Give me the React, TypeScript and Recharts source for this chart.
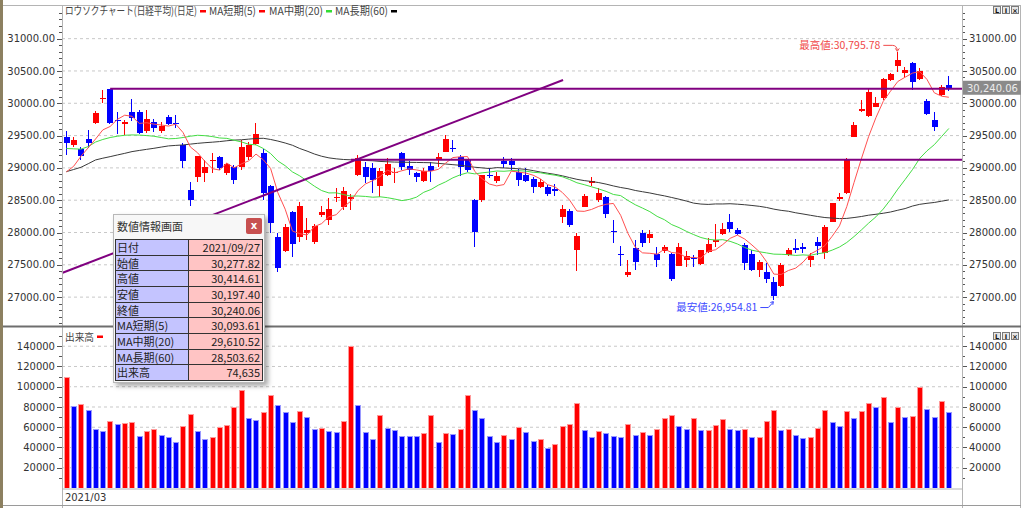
import React from 'react';
import { ComposedChart, Bar, Line, XAxis, YAxis, CartesianGrid, ReferenceLine } from 'recharts';

// ---------------- data ----------------
const dateLabels = ['2021/03'];
const dateTickIndex = [1];

const opens = [
  29484, 29355, 29288, 29443, 29690, 30077, 30220, 29742, 29680, 29861,
  29871, 29570, 29716, 29572, 29794, 29700, 29355, 28658, 28865, 28916,
  29100, 29174, 28927, 29020, 29020, 29174, 29370, 29236, 28720, 27926,
  27719, 28313, 27926, 28000, 27859, 28271, 28194, 28530, 28400, 28525,
  28890, 29009, 28993, 28720, 28890, 28935, 29225, 29034, 28916, 28797,
  29029, 29133, 29251, 29303, 29164, 29122, 28503, 28503, 28890, 28802,
  29112, 29112, 28931, 28890, 28823, 28709, 28709, 28673, 28245, 28338,
  27729, 28400, 28771, 28503, 28544, 28028, 27662, 27337, 27755, 27998,
  27910, 27668, 27719, 27668, 27487, 27575, 27611, 27513, 27694, 27859,
  27972, 28168, 28034, 27807, 27668, 27420, 27394, 27239, 27172, 27652,
  27755, 27781, 27575, 27859, 27688, 28168, 28514, 28607, 29484, 29886,
  29804, 29948, 30077, 30361, 30578, 30464, 30619, 30372, 30041, 29742,
  30129, 30277.82,
];
const highs = [
  29577, 29474, 29319, 29587, 29881, 30206, 30225, 29871, 29742, 30062,
  29897, 29900, 29760, 29710, 29820, 29820, 29381, 28787, 29190, 29123,
  29226, 29185, 29082, 29045, 29432, 29407, 29690, 29288, 28740, 27988,
  28132, 28330, 28478, 28220, 28132, 28410, 28530, 28684, 28700, 28590,
  29200, 29096, 29081, 28993, 29148, 29000, 29241, 29112, 28942, 28993,
  29097, 29226, 29509, 29432, 29200, 29133, 28520, 28890, 28993, 28942,
  29174, 29148, 28978, 28993, 28864, 28823, 28735, 28751, 28426, 28358,
  27987, 28596, 28854, 28684, 28565, 28193, 27791, 27575, 27884, 28039,
  28039, 27781, 27807, 27678, 27833, 27719, 27652, 27730, 27910, 28132,
  28142, 28282, 28065, 27833, 27730, 27575, 27523, 27317, 27523, 27755,
  27895, 27833, 27688, 27936, 28117, 28460, 28607, 29149, 29716, 30052,
  30243, 30103, 30397, 30475, 30795.78, 30568, 30635, 30542, 30062, 29871,
  30284, 30414.61,
];
const lows = [
  29200, 29319, 29123, 29303, 29680, 30000, 29680, 29525, 29510, 29732,
  29525, 29540, 29560, 29540, 29660, 29612, 28994, 28416, 28787, 28787,
  28916, 28968, 28890, 28751, 28968, 29123, 29355, 28504, 27988, 27394,
  27700, 27626, 27859, 27884, 27823, 28246, 28116, 28478, 28349, 28350,
  28880, 28771, 28606, 28555, 28875, 28760, 28967, 28890, 28787, 28787,
  28787, 29019, 29241, 29251, 28875, 28942, 27781, 28477, 28838, 28761,
  28993, 28967, 28725, 28780, 28617, 28684, 28570, 28570, 28152, 28090,
  27404, 28390, 28720, 28477, 28219, 27832, 27486, 27316, 27419, 27781,
  27833, 27461, 27688, 27255, 27480, 27472, 27472, 27497, 27680, 27781,
  27960, 28013, 27962, 27420, 27410, 27317, 27214, 26954.81, 27162, 27640,
  27688, 27688, 27472, 27652, 27585, 28160, 28493, 28600, 29474, 29871,
  29794, 29938, 30052, 30351, 30490, 30413, 30206, 30361, 29819, 29577,
  30114, 30197.4,
];
const closes = [
  29384, 29432, 29178, 29388, 29854, 30089, 29696, 29730, 29708, 29768,
  29538, 29751, 29621, 29643, 29683, 29685, 29100, 28508, 29188, 29020,
  29126, 28991, 29053, 28812, 29331, 29357, 29518, 28608, 28147, 27448,
  28084, 27824, 28406, 28044, 28098, 28317, 28364, 28553, 28642, 28549,
  29149, 28860, 28814, 28946, 29058, 28941, 29019, 28963, 28860, 28958,
  28948, 29161, 29441, 29291, 29018, 28964, 28010, 28884, 28874, 28875,
  29066, 29048, 28812, 28800, 28707, 28783, 28598, 28643, 28366, 28118,
  27940, 28569, 28790, 28608, 28279, 28003, 27652, 27388, 27548, 27833,
  27970, 27581, 27782, 27283, 27781, 27641, 27584, 27728, 27820, 27888,
  28050, 28060, 27977, 27523, 27424, 27540, 27281, 27013, 27494, 27732,
  27724, 27742, 27641, 27789, 28089, 28451, 28543, 29128, 29659, 29916,
  30181, 30008, 30381, 30447, 30670, 30511, 30323, 30500, 29839, 29639,
  30248, 30240.06,
];
const volumes = [
  110000, 81300, 83300, 77300, 58600, 56000, 66600, 63300, 64000, 65600,
  51000, 56300, 58600, 52000, 50000, 45600, 61300, 72600, 56300, 48300,
  50000, 60300, 62300, 79600, 96300, 69300, 67300, 74600, 92000, 82300,
  75300, 65000, 76300, 70000, 58000, 59600, 56300, 55300, 66000, 140600,
  82000, 55000, 48300, 72300, 59600, 57000, 51800, 51500, 51300, 54000,
  72300, 45600, 54000, 53300, 58000, 91600, 77000, 69000, 51600, 45600,
  52300, 48300, 60300, 55000, 46300, 48300, 39600, 43000, 61000, 63000,
  84000, 57000, 50600, 56000, 54000, 51600, 50600, 63600, 52300, 55000,
  52300, 58000, 69000, 71600, 61000, 58300, 69000, 57000, 57600, 62000,
  68000, 58600, 57000, 58600, 50400, 50700, 66300, 77000, 57500, 57900,
  52300, 49000, 50000, 59600, 77000, 65600, 61000, 76000, 69000, 76000,
  84000, 80300, 90000, 65600, 80300, 70000, 71000, 99600, 78000, 70000,
  85600, 74635,
];
// moving-average values at the start of the window (their history lies before the first candle)
const ma5Head = [28938, 29025, 29180, 29312];
const ma20Head = [
  29300, 29295, 29290, 29330, 29400, 29440, 29470, 29490, 29505, 29510,
  29508, 29500, 29490, 29470, 29450, 29455, 29470, 29490, 29505,
];
const ma60Head = [
  28942, 28975, 29009, 29065, 29123, 29150, 29174, 29200, 29225, 29252,
  29270, 29287, 29303, 29322, 29340, 29348, 29355, 29368, 29380, 29390,
  29398, 29407, 29420, 29430, 29435, 29445, 29455, 29458, 29440, 29415,
  29385, 29350, 29300, 29260, 29215, 29180, 29155, 29140, 29130, 29125,
  29120, 29115, 29110, 29100, 29095, 29090, 29088, 29086, 29084, 29082,
  29080, 29070, 29060, 29050, 29040, 29025, 29010, 29000, 28990,
];
const priceLabelTicks = [27000, 27500, 28000, 28500, 29000, 29500, 30000, 30500, 31000];
const volumeLabelTicks = [20000, 40000, 60000, 80000, 100000, 120000, 140000];
const trendHigh = 30225;
const trendMid = 29125;
const trendDiag = [27373, 30360];

const infoLabels = ['日付', '始値', '高値', '安値', '終値', 'MA短期(5)', 'MA中期(20)', 'MA長期(60)', '出来高'];
const infoValues = ['2021/09/27', '30,277.82', '30,414.61', '30,197.40', '30,240.06', '30,093.61', '29,610.52', '28,503.62', '74,635'];

const legendItems = [
  { text: 'ロウソクチャート(日経平均)(日足)', x: 65, w: 132, sx: 0.8, mark: '#ff0000' },
  { text: 'MA短期(5)', x: 209, w: 47, sx: 0.92, mark: '#ff0000' },
  { text: 'MA中期(20)', x: 269, w: 54, sx: 0.92, mark: '#33dd33' },
  { text: 'MA長期(60)', x: 335, w: 53, sx: 0.92, mark: '#000000' },
];

// ---------------- derived ----------------
const priceMinorTicks = Array.from({ length: 49 }, (_, k) => 26600 + k * 100);
const volumeMinorTicks = Array.from({ length: 15 }, (_, k) => 10000 + k * 10000);
const mean = (a: number[]) => a.reduce((s, v) => s + v, 0) / a.length;
const movingAverage = (n: number, head: number[]) =>
  closes.map((_, k) => (k < n - 1 ? head[k] : mean(closes.slice(k - n + 1, k + 1))));
const ma5 = movingAverage(5, ma5Head);
const ma20 = movingAverage(20, ma20Head);
const ma60 = movingAverage(60, ma60Head);

const data = closes.map((c, k) => ({
  i: k + 1,
  o: opens[k],
  h: highs[k],
  l: lows[k],
  c,
  range: [lows[k], highs[k]],
  ma5: ma5[k],
  ma20: ma20[k],
  ma60: ma60[k],
  vol: volumes[k],
  volUp: k === 0 || volumes[k] > volumes[k - 1],
}));

const fmt2 = (v: number) => v.toLocaleString('en-US', { minimumFractionDigits: 2, maximumFractionDigits: 2 });

// ---------------- layout ----------------
const X_DOMAIN: [number, number] = [0.4, 123.8];
const PRICE_DOMAIN: [number, number] = [26553, 31490];
const VOLUME_DOMAIN: [number, number] = [0, 158000];
const PLOT_L = 62;
const PLOT_R = 962;
const PRICE_TOP = 7;
const PRICE_BOTTOM = 326;
const xOf = (i: number) => PLOT_L + ((i - X_DOMAIN[0]) / (X_DOMAIN[1] - X_DOMAIN[0])) * (PLOT_R - PLOT_L);
const yOfPrice = (p: number) =>
  PRICE_TOP + ((PRICE_DOMAIN[1] - p) / (PRICE_DOMAIN[1] - PRICE_DOMAIN[0])) * (PRICE_BOTTOM - PRICE_TOP);

const AXIS_FONT = '"DejaVu Sans", sans-serif';
const JP_FONT = '"Noto Sans CJK JP", "Noto Sans", sans-serif';

function makeTick(side: 'left' | 'right', labels: number[], format: (v: number) => string) {
  return (props: any) => {
    const { x, y, payload } = props;
    const v = payload.value;
    const major = labels.indexOf(v) >= 0;
    const len = major ? 5 : 3;
    const dir = side === 'left' ? -1 : 1;
    const yy = Math.round(y) + 0.5;
    return (
      <g>
        <line x1={x} x2={x + dir * len} y1={yy} y2={yy} stroke="#555" strokeWidth={1} />
        {major && (
          <text
            x={x + dir * (len + 2)}
            y={y}
            dy="0.36em"
            textAnchor={side === 'left' ? 'end' : 'start'}
            fontFamily={AXIS_FONT}
            fontSize={10}
            fill="#333"
          >
            {format(v)}
          </text>
        )}
      </g>
    );
  };
}

const PriceTickL = makeTick('left', priceLabelTicks, (v) => v.toFixed(2));
const PriceTickR = makeTick('right', priceLabelTicks, (v) => v.toFixed(2));
const VolTickL = makeTick('left', volumeLabelTicks, (v) => String(v));
const VolTickR = makeTick('right', volumeLabelTicks, (v) => String(v));

function DateTick(props: any) {
  const { x, y, payload } = props;
  const k = dateTickIndex.indexOf(payload.value);
  return (
    <text x={x - 1.5} y={y + 13} textAnchor="start" fontFamily={AXIS_FONT} fontSize={10} fill="#333">
      {k >= 0 ? dateLabels[k] : ''}
    </text>
  );
}

function Candle(props: any) {
  const { x, y, width, height, payload } = props;
  if (x == null || y == null || !payload || isNaN(x) || isNaN(y)) return null;
  const top = Math.min(y, y + height);
  const span = Math.abs(height);
  const { o, h, l, c } = payload;
  const k = h > l ? span / (h - l) : 0;
  const cx = Math.round(x + width / 2);
  const yo = top + (h - o) * k;
  const yc = top + (h - c) * k;
  const bodyTop = Math.min(yo, yc);
  const bodyH = Math.max(1, Math.abs(yo - yc));
  const color = c >= o ? '#ff0000' : '#0000ff';
  return (
    <g shapeRendering="crispEdges">
      <rect x={cx - 1} y={top} width={1} height={Math.max(1, span)} fill={color} />
      <rect x={cx - 3} y={bodyTop} width={6} height={bodyH} fill={color} />
    </g>
  );
}

function VolumeBar(props: any) {
  const { x, y, width, height, payload } = props;
  if (x == null || y == null || !payload || isNaN(x) || isNaN(y)) return null;
  const cx = Math.round(x + width / 2);
  const up = payload.volUp;
  const top = Math.min(y, y + height);
  const hh = Math.abs(height);
  return (
    <g shapeRendering="crispEdges">
      <rect x={cx - 3} y={top} width={6} height={hh} fill={up ? '#ff9a9a' : '#9a9aff'} />
      <rect x={cx - 2} y={top + 1} width={4} height={Math.max(0, hh - 1)} fill={up ? '#ff0000' : '#0000ff'} />
    </g>
  );
}

function WinButtons({ y }: { y: number }) {
  const labels = ['L', 'I', '×'];
  return (
    <g>
      {labels.map((t, k) => (
        <g key={k}>
          <rect x={993.5 + k * 9} y={y + 0.5} width={7} height={7} fill="#e6e6e6" stroke="#7a7a7a" />
          <text x={997 + k * 9} y={y + 6.6} textAnchor="middle" fontFamily={AXIS_FONT} fontSize={6.5} fontWeight="bold" fill="#111">
            {t}
          </text>
        </g>
      ))}
    </g>
  );
}

export default function App() {
  const hiIdx = highs.indexOf(Math.max(...highs));
  const loIdx = lows.indexOf(Math.min(...lows));
  const hx = xOf(hiIdx + 1) - 0.5;
  const hy = yOfPrice(highs[hiIdx]);
  const lx = xOf(loIdx + 1) - 0.5;
  const ly = yOfPrice(lows[loIdx]);
  const lastClose = closes[closes.length - 1];
  const lastY = yOfPrice(lastClose);

  return (
    <div style={{ position: 'absolute', left: 0, top: 0, width: 1024, height: 508, background: '#fff', overflow: 'hidden' }}>
      {/* price panel */}
      <div style={{ position: 'absolute', left: 0, top: 0 }}>
        <ComposedChart width={1024} height={326} data={data} margin={{ top: 7, right: 0, bottom: 0, left: 0 }}>
          <CartesianGrid yAxisId="left" vertical={false} horizontalValues={priceLabelTicks} stroke="#c8c8c8" strokeDasharray="3 3" />
          <XAxis dataKey="i" type="number" domain={X_DOMAIN} allowDataOverflow hide />
          <YAxis
            yAxisId="left"
            orientation="left"
            width={62}
            domain={PRICE_DOMAIN}
            allowDataOverflow
            ticks={priceMinorTicks}
            interval={0}
            tickSize={0}
            tickMargin={0}
            axisLine={false}
            tickLine={false}
            tick={PriceTickL}
          />
          <YAxis
            yAxisId="right"
            orientation="right"
            width={62}
            domain={PRICE_DOMAIN}
            allowDataOverflow
            ticks={priceMinorTicks}
            interval={0}
            tickSize={0}
            tickMargin={0}
            axisLine={false}
            tickLine={false}
            tick={PriceTickR}
          />
          <Line yAxisId="left" dataKey="ma60" type="linear" stroke="#3a3a3a" strokeWidth={1} dot={false} activeDot={false} isAnimationActive={false} />
          <Line yAxisId="left" dataKey="ma20" type="linear" stroke="#44dd44" strokeWidth={1} dot={false} activeDot={false} isAnimationActive={false} />
          <Bar yAxisId="left" dataKey="range" barSize={6} shape={Candle} isAnimationActive={false} />
          <Line yAxisId="left" dataKey="ma5" type="linear" stroke="#ff5050" strokeWidth={1} dot={false} activeDot={false} isAnimationActive={false} />
          <ReferenceLine
            yAxisId="left"
            segment={[{ x: 7, y: trendHigh }, { x: X_DOMAIN[1], y: trendHigh }]}
            stroke="#800080"
            strokeWidth={2}
            ifOverflow="visible"
          />
          <ReferenceLine
            yAxisId="left"
            segment={[{ x: 40, y: trendMid }, { x: X_DOMAIN[1], y: trendMid }]}
            stroke="#800080"
            strokeWidth={2}
            ifOverflow="visible"
          />
          <ReferenceLine
            yAxisId="left"
            segment={[{ x: X_DOMAIN[0], y: trendDiag[0] }, { x: 69.1, y: trendDiag[1] }]}
            stroke="#800080"
            strokeWidth={2}
            ifOverflow="visible"
          />
        </ComposedChart>
      </div>

      {/* volume panel */}
      <div style={{ position: 'absolute', left: 0, top: 328 }}>
        <ComposedChart width={1024} height={177} data={data} margin={{ top: 0, right: 0, bottom: 0, left: 0 }}>
          <CartesianGrid yAxisId="left" vertical={false} horizontalValues={volumeLabelTicks} stroke="#c8c8c8" strokeDasharray="3 3" />
          <XAxis
            dataKey="i"
            type="number"
            domain={X_DOMAIN}
            allowDataOverflow
            ticks={dateTickIndex}
            interval={0}
            height={17}
            tickSize={0}
            tickMargin={0}
            axisLine={false}
            tickLine={false}
            tick={DateTick}
          />
          <YAxis
            yAxisId="left"
            orientation="left"
            width={62}
            domain={VOLUME_DOMAIN}
            allowDataOverflow
            ticks={volumeMinorTicks}
            interval={0}
            tickSize={0}
            tickMargin={0}
            axisLine={false}
            tickLine={false}
            tick={VolTickL}
          />
          <YAxis
            yAxisId="right"
            orientation="right"
            width={62}
            domain={VOLUME_DOMAIN}
            allowDataOverflow
            ticks={volumeMinorTicks}
            interval={0}
            tickSize={0}
            tickMargin={0}
            axisLine={false}
            tickLine={false}
            tick={VolTickR}
          />
          <Bar yAxisId="left" dataKey="vol" barSize={6} shape={VolumeBar} isAnimationActive={false} />
        </ComposedChart>
      </div>

      {/* frame, legend, annotations */}
      <svg width={1024} height={508} style={{ position: 'absolute', left: 0, top: 0, pointerEvents: 'none' }}>
        <rect x={0} y={0} width={3} height={508} fill="#8c8060" />
        <line x1={3} x2={1021} y1={5.5} y2={5.5} stroke="#b4b4b4" />
        <line x1={1020.5} x2={1020.5} y1={5} y2={508} stroke="#b4b4b4" />
        <line x1={62.5} x2={62.5} y1={5} y2={508} stroke="#b4b4b4" />
        <line x1={962.5} x2={962.5} y1={5} y2={508} stroke="#b4b4b4" />
        <line x1={3} x2={1021} y1={326.5} y2={326.5} stroke="#6e6e6e" strokeWidth={2} />
        <line x1={62} x2={963} y1={489} y2={489} stroke="#b4b4b4" />
        <line x1={3} x2={1021} y1={505.5} y2={505.5} stroke="#9a9a9a" />

        {legendItems.map((it, k) => (
          <g key={k}>
            <g transform={`translate(${it.x},15) scale(${it.sx},1)`}>
              <text x={0} y={0} fontFamily={JP_FONT} fontSize={11} fill="#444" textLength={it.w / it.sx} lengthAdjust="spacingAndGlyphs">
                {it.text}
              </text>
            </g>
            <rect x={it.x + it.w + 3} y={10} width={6} height={2.5} fill={it.mark} />
          </g>
        ))}

        <text x={65} y={341} fontFamily={JP_FONT} fontSize={10} fill="#444" textLength={29} lengthAdjust="spacingAndGlyphs">
          出来高
        </text>
        <rect x={97} y={335.5} width={6} height={2.5} fill="#ff0000" />

        <WinButtons y={6} />
        <WinButtons y={332} />

        {/* highest */}
        <text x={hx - 17} y={hy - 3} textAnchor="end" fontFamily={JP_FONT} fontSize={10.5} fill="#f04848">
          {'最高値:' + fmt2(highs[hiIdx])}
        </text>
        <path d={`M ${hx - 14} ${hy - 6.5} L ${hx - 5} ${hy - 6.5} Q ${hx - 0.5} ${hy - 6.5} ${hx} ${hy - 1.5}`} fill="none" stroke="#f04848" />
        <path d={`M ${hx - 2} ${hy - 3.5} L ${hx} ${hy - 0.5} L ${hx + 2} ${hy - 3.5}`} fill="none" stroke="#f04848" />

        {/* lowest */}
        <text x={lx - 16} y={ly + 11} textAnchor="end" fontFamily={JP_FONT} fontSize={10.5} fill="#3c48ff">
          {'最安値:' + fmt2(lows[loIdx])}
        </text>
        <path d={`M ${lx - 13} ${ly + 7.5} L ${lx - 5} ${ly + 7.5} L ${lx} ${ly + 2}`} fill="none" stroke="#3c48ff" />
        <path d={`M ${lx - 3} ${ly + 2.5} L ${lx} ${ly + 1.5} L ${lx - 0.5} ${ly + 4.8}`} fill="none" stroke="#3c48ff" />

        {/* last price */}
        <rect x={963} y={lastY - 7} width={58} height={14} fill="#8a8a8a" />
        <text x={967} y={lastY + 4} fontFamily={AXIS_FONT} fontSize={10} fill="#ececec">
          {fmt2(lastClose)}
        </text>
      </svg>

      {/* info window */}
      <div
        style={{
          position: 'absolute',
          left: 113,
          top: 214,
          width: 150,
          height: 167,
          background: '#f7f7f7',
          border: '1px solid #b8b8b8',
          boxShadow: '3px 3px 5px rgba(0,0,0,0.35)',
          fontFamily: JP_FONT,
          fontSize: 11,
          color: '#222',
        }}
      >
        <div style={{ position: 'absolute', left: 3, top: 4, fontSize: 11, color: '#333', lineHeight: '14px' }}>数値情報画面</div>
        <div
          style={{
            position: 'absolute',
            left: 132,
            top: 3,
            width: 16,
            height: 16,
            background: '#c75050',
            borderRadius: 2,
            color: '#fff',
            fontSize: 10,
            fontWeight: 'bold',
            lineHeight: '15px',
            textAlign: 'center',
            fontFamily: AXIS_FONT,
          }}
        >
          x
        </div>
        <div style={{ position: 'absolute', left: 1, top: 24, width: 148, height: 142, background: '#333' }}>
          {infoLabels.map((lab, r) => (
            <React.Fragment key={r}>
              <div
                style={{
                  position: 'absolute',
                  left: 1,
                  top: 1 + r * 15.67,
                  width: 72,
                  height: 14.67,
                  background: '#c4c4ff',
                  lineHeight: '14.67px',
                  paddingLeft: 1,
                  boxSizing: 'border-box',
                  whiteSpace: 'nowrap',
                }}
              >
                {lab}
              </div>
              <div
                style={{
                  position: 'absolute',
                  left: 74,
                  top: 1 + r * 15.67,
                  width: 73,
                  height: 14.67,
                  background: '#ffc4c4',
                  lineHeight: '14.67px',
                  paddingRight: 2,
                  boxSizing: 'border-box',
                  textAlign: 'right',
                  whiteSpace: 'nowrap',
                }}
              >
                {infoValues[r]}
              </div>
            </React.Fragment>
          ))}
        </div>
      </div>
    </div>
  );
}
